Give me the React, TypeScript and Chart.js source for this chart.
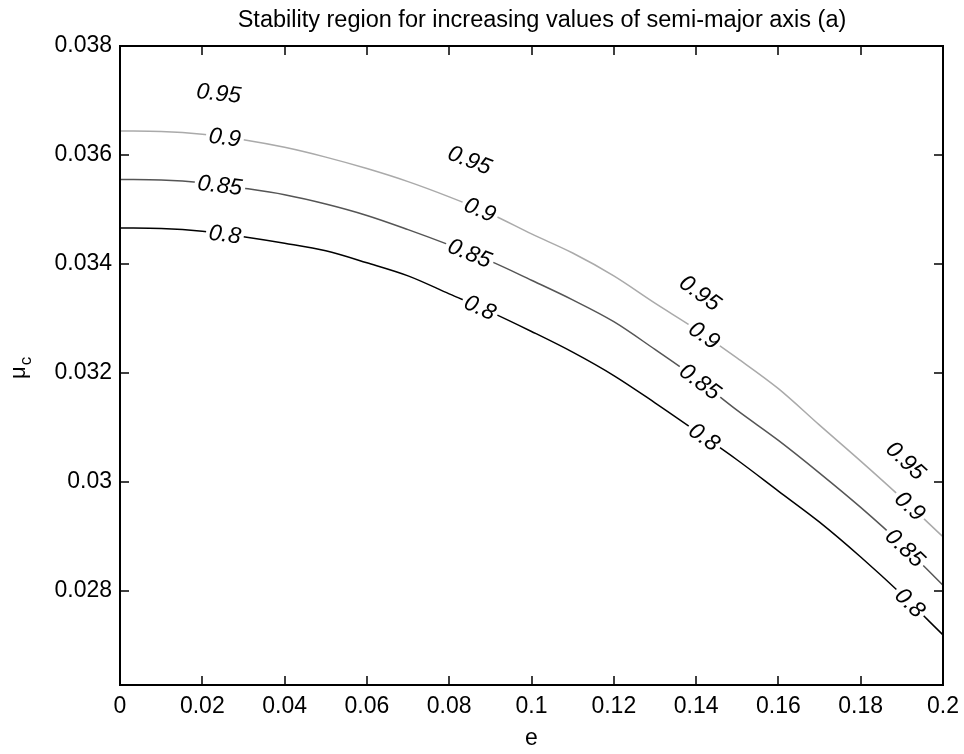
import React, { useEffect, useRef } from "react";
import { Chart, registerables } from "chart.js";
Chart.register(...registerables);

// Eccentricity samples (x axis)
const eValues = [0, 0.01, 0.02, 0.03, 0.04, 0.05, 0.06, 0.07, 0.08, 0.09, 0.1, 0.11, 0.12, 0.13, 0.14, 0.15, 0.16, 0.17, 0.18, 0.19, 0.2];

// Contour levels (mu_c values along each level)
const level095 = [0.03722, 0.03721, 0.03717, 0.03708, 0.03695, 0.03678, 0.03658, 0.03634, 0.03606, 0.03576, 0.03541, 0.03503, 0.03462, 0.03410, 0.03352, 0.03300, 0.03245, 0.03184, 0.03118, 0.03046, 0.02975];
const level090 = [0.03644, 0.03643, 0.03638, 0.03628, 0.03614, 0.03596, 0.03575, 0.03551, 0.03523, 0.03492, 0.03455, 0.03420, 0.03378, 0.03328, 0.03280, 0.03227, 0.03171, 0.03104, 0.03038, 0.02970, 0.02899];
const level085 = [0.03555, 0.03554, 0.03549, 0.03539, 0.03527, 0.03510, 0.03489, 0.03463, 0.03435, 0.03405, 0.03370, 0.03334, 0.03294, 0.03243, 0.03190, 0.03131, 0.03076, 0.03016, 0.02953, 0.02885, 0.02810];
const level080 = [0.03466, 0.03465, 0.03460, 0.03450, 0.03438, 0.03424, 0.03402, 0.03378, 0.03345, 0.03312, 0.03276, 0.03238, 0.03195, 0.03145, 0.03093, 0.03040, 0.02983, 0.02926, 0.02862, 0.02793, 0.02719];

const levelNames = ["0.95", "0.9", "0.85", "0.8"];
const levelColors = ["#ffffff", "#aaaaaa", "#555555", "#000000"];

// e positions of the inline contour labels
const labelsAt095 = [0.024, 0.085, 0.141, 0.191];
const labelsAt090 = [0.0255, 0.0875, 0.142, 0.192];
const labelsAt085 = [0.0243, 0.085, 0.141, 0.1908];
const labelsAt080 = [0.0255, 0.0875, 0.142, 0.192];

const xTicks = [0, 0.02, 0.04, 0.06, 0.08, 0.1, 0.12, 0.14, 0.16, 0.18, 0.2];
const xTickLabels = ["0", "0.02", "0.04", "0.06", "0.08", "0.1", "0.12", "0.14", "0.16", "0.18", "0.2"];
const yTicks = [0.028, 0.03, 0.032, 0.034, 0.036, 0.038];
const yTickLabels = ["0.028", "0.03", "0.032", "0.034", "0.036", "0.038"];

const titleText = "Stability region for increasing values of semi-major axis (a)";
const xTitle = "e";
const yTitleMain = "\u03bc";
const yTitleSub = "c";

const FONT = "'Liberation Sans', Arial, sans-serif";

export default function App() {
  const ref = useRef<HTMLCanvasElement | null>(null);

  useEffect(() => {
    if (!ref.current) return;
    const levels = [level095, level090, level085, level080];
    const labelPos = [labelsAt095, labelsAt090, labelsAt085, labelsAt080];

    const interp = (arr: number[], e: number) => {
      for (let i = 0; i < eValues.length - 1; i++) {
        if (e >= eValues[i] && e <= eValues[i + 1]) {
          const t = (e - eValues[i]) / (eValues[i + 1] - eValues[i]);
          return arr[i] + t * (arr[i + 1] - arr[i]);
        }
      }
      return arr[arr.length - 1];
    };

    const decor = {
      id: "decor",
      afterDatasetsDraw(chart: any) {
        const ctx = chart.ctx;
        const xs = chart.scales.x;
        const ys = chart.scales.y;
        ctx.save();
        // contour labels
        ctx.font = `italic 23px ${FONT}`;
        ctx.textAlign = "center";
        ctx.textBaseline = "middle";
        levels.forEach((arr, li) => {
          labelPos[li].forEach((e) => {
            const px = xs.getPixelForValue(e);
            const py = ys.getPixelForValue(interp(arr, e));
            const p1x = xs.getPixelForValue(e - 0.006);
            const p1y = ys.getPixelForValue(interp(arr, Math.max(0, e - 0.006)));
            const p2x = xs.getPixelForValue(Math.min(0.2, e + 0.006));
            const p2y = ys.getPixelForValue(interp(arr, Math.min(0.2, e + 0.006)));
            const ang = Math.atan2(p2y - p1y, p2x - p1x);
            const w = ctx.measureText(levelNames[li]).width;
            ctx.save();
            ctx.translate(px, py);
            ctx.rotate(ang);
            ctx.fillStyle = "#ffffff";
            ctx.fillRect(-w / 2 - 3, -8, w + 6, 16);
            ctx.fillStyle = "#000000";
            ctx.fillText(levelNames[li], 0, 1);
            ctx.restore();
          });
        });
        ctx.restore();
      },
      afterDraw(chart: any) {
        const ctx = chart.ctx;
        const xs = chart.scales.x;
        const ys = chart.scales.y;
        const a = chart.chartArea;
        ctx.save();
        ctx.strokeStyle = "#000000";
        ctx.lineWidth = 2;
        ctx.strokeRect(a.left, a.top, a.right - a.left, a.bottom - a.top);
        ctx.beginPath();
        const tl = 9;
        xTicks.forEach((v) => {
          const x = Math.round(xs.getPixelForValue(v));
          ctx.moveTo(x, a.bottom);
          ctx.lineTo(x, a.bottom - tl);
          ctx.moveTo(x, a.top);
          ctx.lineTo(x, a.top + tl);
        });
        yTicks.forEach((v) => {
          const y = Math.round(ys.getPixelForValue(v));
          ctx.moveTo(a.left, y);
          ctx.lineTo(a.left + tl, y);
          ctx.moveTo(a.right, y);
          ctx.lineTo(a.right - tl, y);
        });
        ctx.lineWidth = 1.5;
        ctx.stroke();

        // title
        ctx.fillStyle = "#000000";
        ctx.font = `23.5px ${FONT}`;
        ctx.textAlign = "center";
        ctx.textBaseline = "alphabetic";
        ctx.fillText(titleText, 542, 27);
        // x title
        ctx.font = `23px ${FONT}`;
        ctx.fillText(xTitle, (a.left + a.right) / 2, 745);
        // y title
        ctx.save();
        ctx.translate(25, 379);
        ctx.rotate(-Math.PI / 2);
        ctx.textAlign = "left";
        ctx.font = `22px ${FONT}`;
        ctx.fillText(yTitleMain, 0, 0);
        const mw = ctx.measureText(yTitleMain).width;
        ctx.font = `17px ${FONT}`;
        ctx.fillText(yTitleSub, mw + 1, 6);
        ctx.restore();
        ctx.restore();
      },
    };

    const chart = new Chart(ref.current, {
      type: "line",
      data: {
        datasets: levels.map((arr, li) => ({
          label: levelNames[li],
          data: eValues.map((e, i) => ({ x: e, y: arr[i] })),
          borderColor: levelColors[li],
          borderWidth: 1.5,
          pointRadius: 0,
          fill: false,
          cubicInterpolationMode: "monotone" as const,
        })),
      },
      options: {
        animation: false,
        responsive: false,
        events: [],
        layout: { padding: { left: 10, right: 21, top: 46, bottom: 19 } },
        plugins: { legend: { display: false }, tooltip: { enabled: false }, title: { display: false } },
        scales: {
          x: {
            type: "linear",
            min: 0,
            max: 0.2,
            afterFit: (s: any) => { s.height = 50; s.paddingLeft = 0; s.paddingRight = 0; },
            afterBuildTicks: (s: any) => { s.ticks = xTicks.map((v) => ({ value: v })); },
            grid: { display: false, drawTicks: false },
            border: { display: false },
            ticks: {
              color: "#000000",
              padding: 8,
              maxRotation: 0,
              autoSkip: false,
              font: { family: FONT, size: 23 },
              callback: (v: any) => { const i = xTicks.findIndex((t) => Math.abs(t - v) < 1e-9); return i >= 0 ? xTickLabels[i] : ""; },
            },
          },
          y: {
            type: "linear",
            min: 0.02627,
            max: 0.038,
            afterFit: (s: any) => { s.width = 110; s.paddingTop = 0; s.paddingBottom = 0; },
            afterBuildTicks: (s: any) => { s.ticks = yTicks.map((v) => ({ value: v })); },
            grid: { display: false, drawTicks: false },
            border: { display: false },
            ticks: {
              color: "#000000",
              padding: 8,
              autoSkip: false,
              font: { family: FONT, size: 23 },
              callback: (v: any) => { const i = yTicks.findIndex((t) => Math.abs(t - v) < 1e-9); return i >= 0 ? yTickLabels[i] : ""; },
            },
          },
        },
      },
      plugins: [decor],
    });
    return () => chart.destroy();
  }, []);

  return (
    <div style={{ position: "fixed", left: 0, top: 0, width: 964, height: 754, background: "#ffffff" }}>
      <canvas ref={ref} width={964} height={754} style={{ width: 964, height: 754, display: "block" }} />
    </div>
  );
}
